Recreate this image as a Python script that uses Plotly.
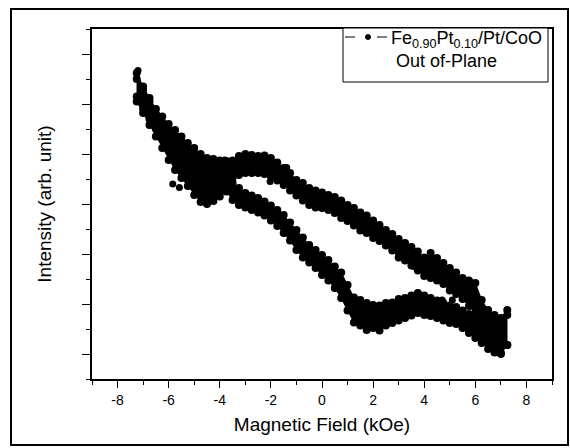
import plotly.graph_objects as go

# ---- data (Magnetic field in kOe, intensity in arb. units) ----
field = [-7.25, -7.0, -6.75, -6.5, -6.25, -6.0, -5.75, -5.5, -5.25, -5.0, -4.75, -4.5, -4.25, -4.0,
         -3.75, -3.5, -3.25, -3.0, -2.75, -2.5, -2.25, -2.0, -1.75, -1.5, -1.25, -1.0, -0.75, -0.5,
         -0.25, 0.0, 0.25, 0.5, 0.75, 1.0, 1.25, 1.5, 1.75, 2.0, 2.25, 2.5, 2.75, 3.0, 3.25, 3.5,
         3.75, 4.0, 4.25, 4.5, 4.75, 5.0, 5.25, 5.5, 5.75, 6.0, 6.25, 6.5, 6.75, 7.0, 7.25]

# upper branch: lower / upper edge of the scatter band
upper_lo = [5.15, 4.9, 4.7, 4.5, 4.35, 4.2, 4.05, 3.92, 3.8, 3.7, 3.58, 3.5, 3.48, 3.5,
            3.5, 3.52, 3.58, 3.62, 3.62, 3.62, 3.6, 3.55, 3.47, 3.38, 3.27, 3.17, 3.07, 2.98,
            2.93, 2.92, 2.88, 2.82, 2.72, 2.66, 2.57, 2.47, 2.42, 2.32, 2.26, 2.17, 2.07, 1.93, 1.87, 1.77,
            1.67, 1.56, 1.52, 1.47, 1.4, 1.27, 1.2, 1.1, 0.96, 0.8, 0.55, 0.35, 0.12, 0.02, 0.18]
upper_hi = [5.62, 5.35, 5.12, 4.9, 4.75, 4.6, 4.48, 4.35, 4.22, 4.12, 4.0, 3.92, 3.9, 3.87,
            3.86, 3.87, 3.96, 4.0, 3.98, 3.96, 3.97, 3.92, 3.83, 3.72, 3.62, 3.48, 3.42, 3.32,
            3.27, 3.23, 3.18, 3.14, 3.07, 2.98, 2.92, 2.83, 2.77, 2.67, 2.58, 2.48, 2.4, 2.3, 2.22, 2.14,
            2.05, 1.93, 2.02, 1.92, 1.82, 1.72, 1.63, 1.52, 1.47, 1.42, 1.08, 0.88, 0.78, 0.72, 0.88]

# lower branch: lower / upper edge of the scatter band
lower_lo = [5.05, 4.82, 4.58, 4.35, 4.12, 3.88, 3.68, 3.52, 3.36, 3.18, 3.04, 3.0, 3.06, 3.15,
            3.25, 3.08, 2.98, 2.93, 2.88, 2.83, 2.77, 2.67, 2.56, 2.42, 2.27, 2.08, 1.93, 1.83,
            1.72, 1.58, 1.47, 1.32, 1.12, 0.87, 0.63, 0.57, 0.48, 0.52, 0.47, 0.57, 0.62, 0.67, 0.72, 0.77,
            0.82, 0.78, 0.76, 0.72, 0.67, 0.62, 0.6, 0.52, 0.42, 0.32, 0.22, 0.1, 0.03, 0.0, 0.18]
lower_hi = [5.5, 5.28, 5.05, 4.8, 4.55, 4.32, 4.12, 3.98, 3.82, 3.66, 3.6, 3.55, 3.55, 3.6,
            3.6, 3.42, 3.32, 3.22, 3.17, 3.12, 3.05, 2.97, 2.88, 2.78, 2.63, 2.48, 2.33, 2.18,
            2.08, 1.98, 1.88, 1.75, 1.63, 1.38, 1.13, 1.08, 1.02, 0.98, 0.97, 1.02, 1.03, 1.1, 1.12, 1.17,
            1.22, 1.17, 1.12, 1.07, 1.02, 0.97, 0.94, 0.87, 0.8, 0.72, 0.62, 0.52, 0.47, 0.42, 0.78]

# isolated points outside the bands
stray_x = [-7.2, -5.84, -5.58, -3.8, -2.03, -1.38, 3.6, 4.7, 5.1]
stray_y = [5.67, 3.4, 3.33, 3.88, 3.45, 3.73, 1.75, 1.08, 1.08]

x_ticks = [-8, -6, -4, -2, 0, 2, 4, 6, 8]

fig = go.Figure()
mk = dict(color="black", size=8)
for lo, hi in [(upper_lo, upper_hi), (lower_lo, lower_hi)]:
    fig.add_trace(go.Scatter(x=field, y=lo, mode="lines+markers", marker=mk,
                             line=dict(color="black", width=1), showlegend=False))
    fig.add_trace(go.Scatter(x=field, y=hi, mode="lines+markers", marker=mk,
                             line=dict(color="black", width=1), fill="tonexty",
                             fillcolor="black", showlegend=False))
fig.add_trace(go.Scatter(x=stray_x, y=stray_y, mode="markers", marker=dict(color="black", size=7),
                         showlegend=False))

FONT = "Liberation Sans, Arial, sans-serif"
L, R, T, B = 92, 552, 29, 379
W, H = 570, 448

def px(xp):
    return (xp - L) / (R - L)

def py(yp):
    return (B - yp) / (B - T)

sym_y = py(37)
fig.update_layout(
    width=W, height=H,
    margin=dict(l=L, r=W - R, t=T, b=H - B),
    paper_bgcolor="white", plot_bgcolor="white",
    font=dict(family=FONT, color="black", size=14),
    xaxis=dict(range=[-9, 9], tickvals=x_ticks, ticktext=[str(v) for v in x_ticks],
               ticks="outside", ticklen=7, tickwidth=1.2, tickcolor="black",
               minor=dict(dtick=1, tick0=0, ticks="outside", ticklen=4, tickcolor="black", tickwidth=1.2),
               showline=True, linecolor="black", linewidth=1.5, mirror=True,
               showgrid=False, zeroline=False, tickfont=dict(size=14),
               title=dict(text="Magnetic Field (kOe)", font=dict(size=19), standoff=11)),
    yaxis=dict(range=[-0.5, 6.5], dtick=1, tick0=0, showticklabels=False,
               ticks="outside", ticklen=8, tickwidth=1.2, tickcolor="black",
               minor=dict(dtick=0.5, tick0=0, ticks="outside", ticklen=4, tickcolor="black", tickwidth=1.2),
               showline=True, linecolor="black", linewidth=1.5, mirror=True,
               showgrid=False, zeroline=False,
               title=dict(text="Intensity (arb. unit)", font=dict(size=19), standoff=26)),
    shapes=[
        dict(type="rect", xref="paper", yref="paper", x0=px(343), x1=px(548), y0=py(82), y1=py(28),
             line=dict(color="black", width=1), fillcolor="white", layer="above"),
        dict(type="line", xref="paper", yref="paper", x0=px(345), x1=px(355), y0=sym_y, y1=sym_y,
             line=dict(color="black", width=1), layer="above"),
        dict(type="circle", xref="paper", yref="paper", x0=px(365.5), x1=px(370.5),
             y0=py(39.5), y1=py(34.5), line=dict(color="black", width=1), fillcolor="black",
             layer="above"),
        dict(type="line", xref="paper", yref="paper", x0=px(377), x1=px(387), y0=sym_y, y1=sym_y,
             line=dict(color="black", width=1), layer="above"),
        dict(type="rect", xref="paper", yref="paper", x0=px(11), x1=px(568), y0=py(445), y1=py(9),
             line=dict(color="black", width=2), layer="above"),
    ],
    annotations=[
        dict(xref="paper", yref="paper", x=px(389), y=py(39), xanchor="left", yanchor="middle",
             showarrow=False, font=dict(size=18),
             text="Fe<sub>0.90</sub>Pt<sub>0.10</sub>/Pt/CoO"),
        dict(xref="paper", yref="paper", x=px(446), y=py(61), xanchor="center", yanchor="middle",
             showarrow=False, font=dict(size=18), text="Out of-Plane"),
    ],
)

fig.write_html("out.html")
